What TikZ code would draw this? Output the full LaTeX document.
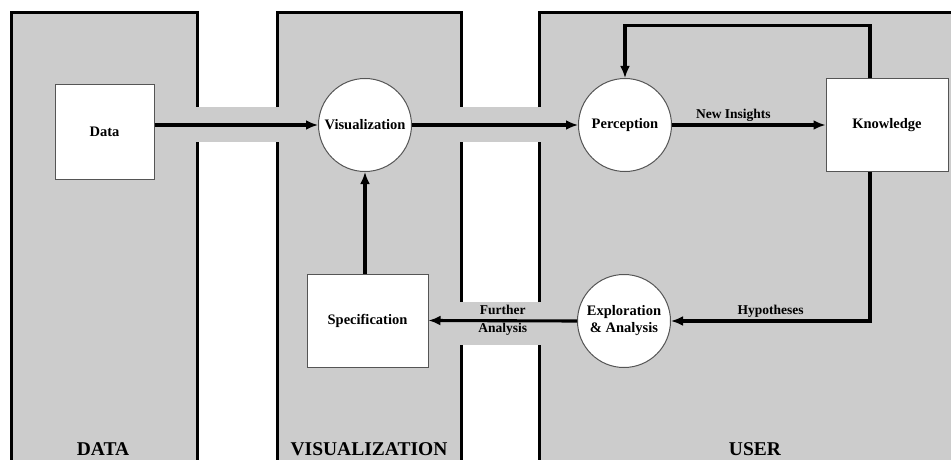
\documentclass[tikz,border=0pt]{standalone}
\usepackage{fontspec}
\setmainfont{Liberation Serif}
\usetikzlibrary{arrows.meta,calc}
\definecolor{panelgray}{HTML}{CCCCCC}
\definecolor{edgegray}{HTML}{555555}
\begin{document}
\begin{tikzpicture}[x=1pt,y=-1pt,
  panelline/.style={line width=3pt,line cap=butt,line join=miter},
  boxnode/.style={draw=edgegray,fill=white,line width=1pt,inner sep=0pt,font=\fontsize{14.5}{16}\selectfont\bfseries},
  circnode/.style={circle,draw=edgegray,fill=white,line width=1pt,inner sep=0pt,minimum size=93pt,align=center,font=\fontsize{14.5}{17}\selectfont\bfseries},
  arr/.style={line width=3.1pt,-{Latex[length=12pt,width=10pt]}},
  lbl/.style={font=\fontsize{13.5}{15}\selectfont\bfseries,inner sep=1pt},
  paneltitle/.style={font=\fontsize{19.5}{22}\selectfont\bfseries}]
\useasboundingbox (0,0) rectangle (951,460);
% panels and bands
\fill[panelgray] (11,13) rectangle (197,470);
\fill[panelgray] (277,13) rectangle (461,470);
\fill[panelgray] (539,13) rectangle (960,470);
\fill[panelgray] (196,107) rectangle (278,142);
\fill[panelgray] (460,107) rectangle (540,142);
\fill[panelgray] (460,302) rectangle (540,345);
% panel borders
\draw[panelline] (11,470) -- (11,13) -- (197,13) -- (197,107);
\draw[panelline] (197,142) -- (197,470);
\draw[panelline] (277,470) -- (277,142);
\draw[panelline] (277,107) -- (277,13) -- (461,13) -- (461,107);
\draw[panelline] (461,142) -- (461,302);
\draw[panelline] (461,345) -- (461,470);
\draw[panelline] (539,470) -- (539,345);
\draw[panelline] (539,302) -- (539,142);
\draw[panelline] (539,107) -- (539,13) -- (960,13);
% nodes
\node[boxnode,minimum width=99pt,minimum height=94pt] (data) at (104.5,132) {Data};
\node[circnode] (vis) at (365,125) {Visualization};
\node[circnode] (perc) at (625,125) {Perception};
\node[boxnode,minimum width=122pt,minimum height=92pt] (know) at (887,125) {Knowledge};
\node[boxnode,minimum width=121pt,minimum height=93pt] (spec) at (367.5,320.5) {Specification};
\node[circnode] (expl) at (624,321) {Exploration\\\& Analysis};
% connectors
\draw[arr] (vis.west -| data.east) -- (vis.west);
\draw[arr] (vis.east) -- (perc.west);
\draw[arr] (perc.east) -- node[lbl,above=1pt,pos=0.4] (ni) {New Insights} (know.west);
\draw[arr] ([xshift=-17pt]know.north) -- ++(0,-53) -| (perc.north);
\draw[arr] ([xshift=-17pt]know.south) |- node[lbl,above=1pt,pos=0.75] (hy) {Hypotheses} (expl.east);
\draw[arr] (expl.west) -- node[lbl,align=center,font=\fontsize{13.5}{18}\selectfont\bfseries] (fa) {Further\\Analysis} (spec.east);
\draw[arr] (spec.north -| vis.south) -- (vis.south);
% panel titles
\node[paneltitle] (tdata) at (103,449) {DATA};
\node[paneltitle] (tvis) at (369,449) {VISUALIZATION};
\node[paneltitle] (tuser) at (755,449) {USER};
\end{tikzpicture}
\end{document}
